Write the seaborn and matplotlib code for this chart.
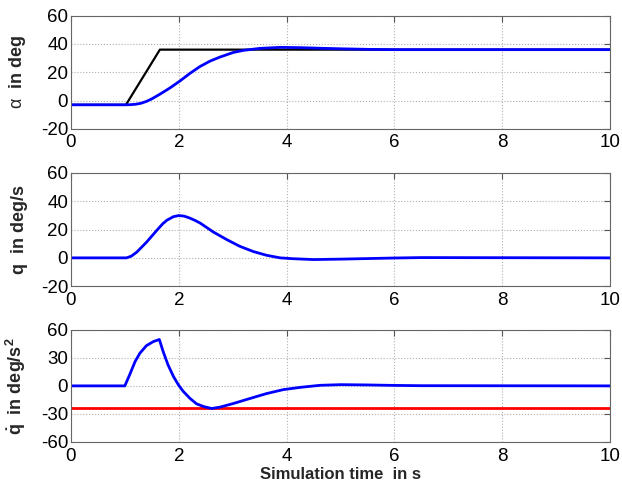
import numpy as np
import matplotlib
matplotlib.use("Agg")
import matplotlib.pyplot as plt
import seaborn as sns

# angle of attack: command (black) and response (blue)
t_cmd = [0.0, 1.02, 1.65, 10.0]
alpha_cmd = [-3.0, -3.0, 36.0, 36.0]

t_alpha = [0.0, 1.0, 1.1, 1.2, 1.3, 1.4, 1.5, 1.65, 1.84, 2.02, 2.21, 2.39, 2.58,
           2.76, 3.01, 3.2, 3.51, 3.88, 4.25, 4.6, 5.0, 5.5, 6.0, 10.0]
alpha = [-3.0, -3.0, -2.9, -2.6, -1.9, -0.6, 1.2, 4.5, 9.0, 13.8, 19.3, 24.0, 27.9,
         30.7, 34.0, 35.5, 36.9, 37.6, 37.4, 37.0, 36.6, 36.2, 36.0, 36.0]

# pitch rate
t_q = [0.0, 1.03, 1.12, 1.22, 1.40, 1.59, 1.7, 1.78, 1.9, 2.0, 2.1, 2.2, 2.3, 2.4,
       2.64, 2.89, 3.13, 3.38, 3.63, 3.88, 4.12, 4.5, 5.0, 5.5, 6.0, 6.5, 10.0]
q = [0.0, 0.0, 1.2, 4.0, 11.0, 19.3, 24.0, 26.6, 29.1, 29.9, 29.5, 28.2, 26.5, 24.5,
     18.3, 12.9, 8.2, 4.5, 1.8, 0.0, -0.6, -1.2, -0.9, -0.5, -0.1, 0.2, 0.0]

# pitch acceleration and its limit
t_qd = [0.0, 1.0, 1.09, 1.19, 1.28, 1.40, 1.53, 1.64, 1.71, 1.80, 1.90, 1.99, 2.08,
        2.21, 2.33, 2.46, 2.61, 2.76, 3.01, 3.32, 3.63, 3.94, 4.25, 4.62, 5.0, 5.5,
        6.0, 6.5, 10.0]
qdot = [0.0, 0.0, 12.0, 26.0, 35.0, 43.0, 47.4, 49.6, 36.8, 22.6, 10.2, 1.4, -5.7,
        -13.5, -19.2, -22.1, -24.2, -22.8, -18.9, -13.5, -8.2, -4.0, -1.6, 0.6, 1.3, 1.0,
        0.5, 0.2, 0.0]
qdot_limit = -23.5

sns.set_style("white")
plt.rcParams["font.family"] = ["Liberation Sans", "DejaVu Sans"]
plt.rcParams["mathtext.fontset"] = "custom"
plt.rcParams["mathtext.rm"] = "Liberation Sans"
plt.rcParams["mathtext.it"] = "Liberation Sans:italic"
plt.rcParams["mathtext.bf"] = "Liberation Sans:bold"
plt.rcParams["axes.unicode_minus"] = False

fig = plt.figure(figsize=(6.22, 4.9), dpi=100)
ax1 = fig.add_axes([0.114, 0.737, 0.867, 0.231])
ax2 = fig.add_axes([0.114, 0.416, 0.867, 0.231])
ax3 = fig.add_axes([0.114, 0.098, 0.867, 0.229])

sns.lineplot(x=t_cmd, y=alpha_cmd, ax=ax1, color="black", lw=1.6)
sns.lineplot(x=t_alpha, y=alpha, ax=ax1, color="blue", lw=2.0)
sns.lineplot(x=t_q, y=q, ax=ax2, color="blue", lw=2.0)
sns.lineplot(x=[0, 10], y=[qdot_limit, qdot_limit], ax=ax3, color="red", lw=2.0)
sns.lineplot(x=t_qd, y=qdot, ax=ax3, color="blue", lw=2.0)

ax1.set_ylim(-20, 60)
ax1.set_yticks([-20, 0, 20, 40, 60])
ax2.set_ylim(-20, 60)
ax2.set_yticks([-20, 0, 20, 40, 60])
ax3.set_ylim(-60, 60)
ax3.set_yticks([-60, -30, 0, 30, 60])

ax1.set_ylabel(r"$\mathrm{\alpha}$  in deg", fontsize=13, fontweight="bold")
ax2.set_ylabel("q  in deg/s", fontsize=13, fontweight="bold")
ax3.set_ylabel(r"$\mathbf{\dot{q}}$  in deg/s$^\mathbf{2}$", fontsize=13, fontweight="bold")
ax3.set_xlabel("Simulation time  in s", fontsize=12, fontweight="bold", labelpad=2)

for ax in [ax1, ax2, ax3]:
    ax.set_xlim(0, 10)
    ax.set_xticks([0, 2, 4, 6, 8, 10])
    ax.grid(True, linestyle=":", color="#b0b0b0", lw=0.8)
    ax.tick_params(direction="in", top=True, right=True, length=4,
                   labelsize=13.5, color="#555555", labelcolor="black")
    ax.tick_params(axis="x", pad=4)
    ax.tick_params(axis="y", pad=2)
    for s in ax.spines.values():
        s.set_color("#666666")
        s.set_linewidth(0.8)
    ax.yaxis.set_label_coords(-0.08, 0.5)

fig.savefig("out.png", dpi=100)
